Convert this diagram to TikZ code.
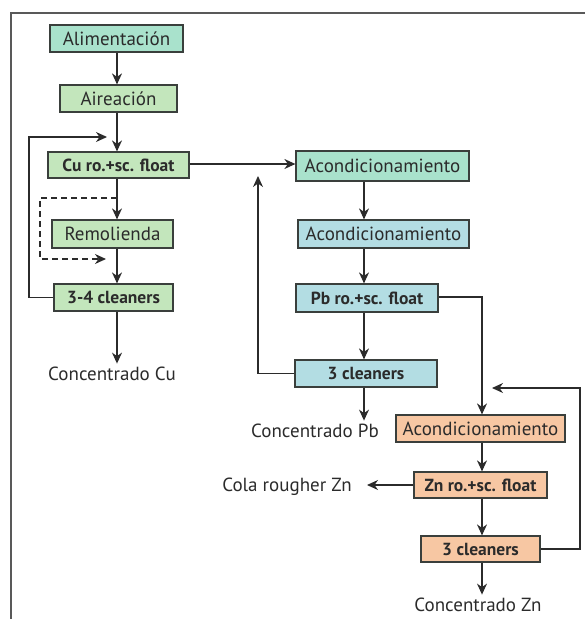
\documentclass[tikz,border=0pt]{standalone}
\usepackage{fontspec}
\setmainfont{PT Sans}
\usetikzlibrary{arrows.meta,calc}
\definecolor{edge}{HTML}{3A3F3C}
\definecolor{teal}{HTML}{A9E2CC}
\definecolor{leaf}{HTML}{C3E6BC}
\definecolor{sky}{HTML}{B3DDE3}
\definecolor{peach}{HTML}{F7C7A3}
\definecolor{ink}{HTML}{2B2B2B}
\tikzset{
  box/.style={draw=edge, line width=1.2pt, inner sep=0pt, anchor=center,
    font=\fontsize{19}{21}\selectfont, text=ink},
  boldbox/.style={box, font=\fontsize{17.5}{20}\selectfont\bfseries},
  label/.style={font=\fontsize{19}{21}\selectfont, text=ink},
  flow/.style={draw=ink, line width=1.2pt, -{Stealth[length=11pt,width=10pt,inset=3.5pt]}},
}
\begin{document}
\begin{tikzpicture}[x=1pt,y=-1pt]
\useasboundingbox (0,0) rectangle (585,619);
% frame
\draw[line width=1.4pt, draw=black!65] (585,13) -- (11,13) -- (11,619);

% copper circuit
\node[box, fill=teal, minimum width=133pt, minimum height=27pt] (alim) at (116.5,38.5) {Alimentación};
\node[box, fill=leaf, minimum width=117pt, minimum height=27pt] (aire) at (118.5,98.5) {Aireación};
\node[boldbox, fill=leaf, minimum width=141pt, minimum height=26pt] (cu) at (118.5,165) {Cu ro.+sc. float};
\node[box, fill=leaf, minimum width=121pt, minimum height=28pt] (remo) at (112.5,234) {Remolienda};
\node[boldbox, fill=leaf, minimum width=119pt, minimum height=27pt] (cl34) at (113.5,297.5) {3-4 cleaners};
\node[label] (concCu) at (112,374) {Concentrado Cu};

% lead circuit
\node[box, fill=teal, minimum width=173pt, minimum height=30pt] (ac1) at (382.5,166) {Acondicionamiento};
\node[box, fill=sky, minimum width=171pt, minimum height=28pt] (ac2) at (383.5,234) {Acondicionamiento};
\node[boldbox, fill=sky, minimum width=142pt, minimum height=28pt] (pb) at (367,298) {Pb ro.+sc. float};
\node[boldbox, fill=sky, minimum width=142pt, minimum height=27pt] (clpb) at (366,373.5) {3 cleaners};
\node[label] (concPb) at (315,431) {Concentrado Pb};

% zinc circuit
\node[box, fill=peach, minimum width=169pt, minimum height=27pt] (aczn) at (480.5,428.5) {Acondicionamiento};
\node[boldbox, fill=peach, minimum width=133pt, minimum height=26pt] (zn) at (480.5,485) {Zn ro.+sc. float};
\node[boldbox, fill=peach, minimum width=119pt, minimum height=26pt] (clzn) at (480.5,549) {3 cleaners};
\node[label] (cola) at (287,487) {Cola rougher Zn};
\node[label] (concZn) at (478,605) {Concentrado Zn};

% column guides
\coordinate (cx) at (117,0);
\coordinate (px) at (364,0);
\coordinate (zx) at (482,0);

% copper flow
\draw[flow] (alim.south -| cx) -- (aire.north -| cx);
\draw[flow] (aire.south -| cx) -- (cu.north -| cx);
\draw[flow] (cu.south -| cx) -- (remo.north -| cx);
\draw[flow] (remo.south -| cx) -- (cl34.north -| cx);
\draw[flow] (cl34.south -| cx) -- (concCu.north -| cx);
\coordinate (curet) at (107,137);
\draw[flow] (cl34.west) -- (29,297.5) -- (29,137) -- (curet);
\coordinate (dashin) at (106,259);
\draw[flow, dashed, dash pattern=on 6pt off 4pt] (117,198) -- (40,198) -- (40,259) -- (dashin);
\draw[flow] (cu.east |- 0,164) -- (ac1.west |- 0,164);

% lead flow
\draw[flow] (ac1.south -| px) -- (ac2.north -| px);
\draw[flow] (ac2.south -| px) -- (pb.north -| px);
\draw[flow] (pb.south -| px) -- (clpb.north -| px);
\draw[flow] (clpb.south -| px) -- (concPb.north -| px);
\coordinate (pbret) at (258,176);
\draw[flow] (clpb.west) -- (258,373.5) -- (pbret);
\draw[flow] (pb.east |- 0,297) -- (482,297) -- (aczn.north -| zx);

% zinc flow
\draw[flow] (aczn.south -| zx) -- (zn.north -| zx);
\draw[flow] (zn.south -| zx) -- (clzn.north -| zx);
\draw[flow] (clzn.south -| zx) -- (concZn.north -| zx);
\coordinate (colatip) at (367,485);
\draw[flow] (zn.west) -- (colatip);
\coordinate (znret) at (492,388);
\draw[flow] (clzn.east) -- (580,549) -- (580,388) -- (znret);
\end{tikzpicture}
\end{document}
